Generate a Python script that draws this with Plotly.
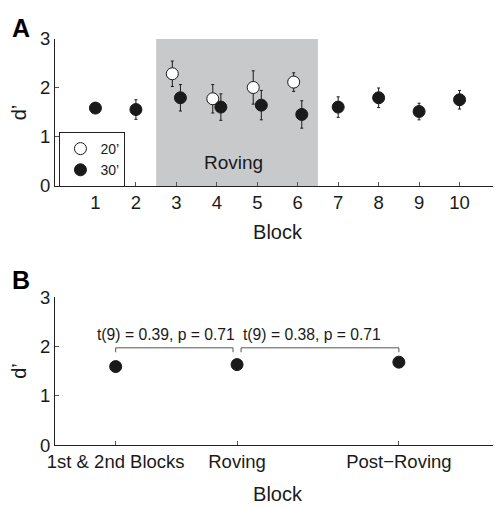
import plotly.graph_objects as go

# ---------------- data ----------------
blocks = [1, 2, 3, 4, 5, 6, 7, 8, 9, 10]
d30 = [1.59, 1.56, 1.80, 1.61, 1.65, 1.46, 1.61, 1.80, 1.52, 1.76]
e30 = [0.10, 0.20, 0.27, 0.27, 0.30, 0.28, 0.21, 0.20, 0.17, 0.19]
roving_blocks = [3, 4, 5, 6]
d20 = [2.29, 1.78, 2.01, 2.12]
e20 = [0.26, 0.29, 0.34, 0.19]

cond_labels = ["1st & 2nd Blocks", "Roving", "Post\u2212Roving"]
cond_pos = [1.5, 4.5, 8.5]
cond_d = [1.59, 1.63, 1.68]
cond_e = [0.08, 0.10, 0.05]
stats_text = ["t(9) = 0.39, p = 0.71", "t(9) = 0.38, p = 0.71"]

FONT = "Arial, Liberation Sans, sans-serif"
INK = "#1a1a1a"
dodge = 0.1

fig = go.Figure()

x30 = [b + dodge if b in roving_blocks else b for b in blocks]
x20 = [b - dodge for b in roving_blocks]

fig.add_trace(go.Scatter(
    x=x20, y=d20, mode="markers", name="20\u2019",
    marker=dict(size=12, color="white", line=dict(color=INK, width=1)),
    error_y=dict(type="data", array=e20, color=INK, thickness=1, width=1.5),
    xaxis="x", yaxis="y"))
fig.add_trace(go.Scatter(
    x=x30, y=d30, mode="markers", name="30\u2019",
    marker=dict(size=12, color=INK, line=dict(color=INK, width=1)),
    error_y=dict(type="data", array=e30, color=INK, thickness=1, width=1.5),
    xaxis="x", yaxis="y"))
fig.add_trace(go.Scatter(
    x=cond_pos, y=cond_d, mode="markers", showlegend=False,
    marker=dict(size=12, color=INK, line=dict(color=INK, width=1)),
    error_y=dict(type="data", array=cond_e, color=INK, thickness=1, width=1.5),
    xaxis="x2", yaxis="y2"))

# roving shade
fig.add_shape(type="rect", xref="x", yref="y", x0=min(roving_blocks) - 0.5,
              x1=max(roving_blocks) + 0.5, y0=0, y1=3,
              fillcolor="#c8c9cb", line=dict(width=0), layer="below")

# brackets
btop, bdrop = 1.97, 1.88
gap = 0.1
pairs = [(cond_pos[0], cond_pos[1] - gap), (cond_pos[1] + gap, cond_pos[2])]
for (xa, xb), txt in zip(pairs, stats_text):
    fig.add_shape(type="path", xref="x2", yref="y2",
                  path=f"M {xa} {bdrop} L {xa} {btop} L {xb} {btop} L {xb} {bdrop}",
                  line=dict(color="#555555", width=1))
    fig.add_annotation(x=(xa + xb) / 2 - 0.2, y=btop, xref="x2", yref="y2",
                       text=txt, showarrow=False, yanchor="bottom", yshift=3,
                       font=dict(size=15.7, color=INK, family=FONT))

fig.add_annotation(x=4.4, y=0.47, xref="x", yref="y", text="Roving",
                   showarrow=False, font=dict(size=19, color=INK, family=FONT))

# panel labels
fig.add_annotation(x=-0.101, y=0.992, xref="paper", yref="paper", text="<b>A</b>",
                   showarrow=False, xanchor="left", yanchor="top",
                   font=dict(size=25, color="black", family=FONT))
fig.add_annotation(x=-0.101, y=0.487, xref="paper", yref="paper", text="<b>B</b>",
                   showarrow=False, xanchor="left", yanchor="top",
                   font=dict(size=25, color="black", family=FONT))

axis_common = dict(showline=True, linecolor="#222222", linewidth=1.2,
                   ticks="inside", ticklen=4, tickcolor="#555555",
                   showgrid=False, zeroline=False, automargin=False,
                   tickfont=dict(size=18.5, color=INK, family=FONT))

title_font = dict(size=20, family=FONT, color=INK)

# page body adds an 8px offset; figure is sized to fill the rest of the window
fig.update_layout(
    width=493, height=499,
    margin=dict(l=47, r=1, t=0, b=0),
    paper_bgcolor="white", plot_bgcolor="white",
    font=dict(family=FONT, color=INK),
    showlegend=True,
    legend=dict(x=0.01, y=0.7515, xanchor="left", yanchor="top",
                bgcolor="white", bordercolor="#222222", borderwidth=1,
                font=dict(size=14, family=FONT, color=INK),
                itemwidth=30, tracegroupgap=0),
    xaxis=dict(domain=[0, 1], range=[0, 11], tickvals=blocks, anchor="y",
               title=dict(text="Block", font=title_font, standoff=12),
               **axis_common),
    yaxis=dict(domain=[0.6433, 0.9379], range=[0, 3], tickvals=[0, 1, 2, 3], anchor="x",
               title=dict(text="d\u2019", font=title_font, standoff=10),
               **axis_common),
    xaxis2=dict(domain=[0, 1], range=[0, 11], tickvals=cond_pos, ticktext=cond_labels,
                anchor="y2",
                title=dict(text="Block", font=title_font, standoff=15),
                **axis_common),
    yaxis2=dict(domain=[0.1242, 0.4208], range=[0, 3], tickvals=[0, 1, 2, 3], anchor="x2",
                title=dict(text="d\u2019", font=title_font, standoff=10),
                **axis_common),
)

fig.write_html("out.html")
